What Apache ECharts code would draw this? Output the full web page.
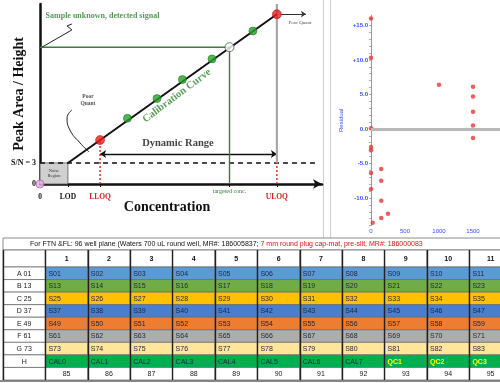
<!DOCTYPE html>
<html><head><meta charset="utf-8">
<script src="https://cdn.jsdelivr.net/npm/echarts@6/dist/echarts.min.js"></script>
<style>html,body{margin:0;padding:0;background:#fff}#c{width:500px;height:383px}</style>
</head><body><div id="c"></div>
<script>
// ---------------- Calibration diagram data ----------------
const calConc   = [2.13, 3.10, 4.15, 5.05, 6.10, 6.72, 7.55, 8.40];
const calSignal = [24.4, 36.5, 47.5, 58.0, 69.5, 76.0, 85.0, 94.3];
const calRole   = ['LLOQ','std','std','std','std','target','std','ULOQ'];
const lodConc = 0.99;
const snSignal = 11.7;
const targetConc = 6.72;
const targetSignal = 76.0;
const lloqConc = 2.13;
const uloqConc = 8.40;
const rangeSignal = 16.7;
const xTickValues = [0, 0.99, 2.13, 6.72, 8.40];
const xTickLabels = ['0', 'LOD', 'LLOQ', 'targeted conc.', 'ULOQ'];
const yTickValues = [0, 11.7];
const yTickLabels = ['0', 'S/N = 3'];
const poorQuantCurveConc   = [1.13, 0.96, 1.06, 1.42, 1.74];
const poorQuantCurveSignal = [41.1, 36.7, 30.0, 22.8, 17.8];
const calloutConc   = [0.07, 1.13, 0.96, 1.13];
const calloutSignal = [76.0, 85.6, 87.8, 88.9];
const annoTexts = ['Sample unknown, detected signal', 'Poor\nQuant', 'Poor Quant', 'Dynamic Range', 'Calibration Curve', 'Noise\nRegion'];

// ---------------- Residual plot data ----------------
const residConc  = [0, 0, 1000, 1500, 1500, 1500, 1500, 1500, 0, 0, 0, 0, 0, 25, 150, 150, 150, 150, 250];
const residValue = [16.0, 10.3, 6.4, 6.1, 4.7, 2.5, 0.5, -1.3, 0.1, -2.6, -3.1, -6.4, -8.7, -13.6, -5.8, -7.5, -10.4, -12.9, -12.3];
const residYTicks  = [-10, -5, 0, 5, 10, 15];
const residYLabels = ['-10.0', '-5.0', '0.0', '5.0', '+10.0', '+15.0'];
const residXTicks  = [0, 500, 1000, 1500];
const residXLabels = ['0', '500', '1000', '1500'];
const residMinorTicks = [-14,-13,-12,-11,-10,-9,-8,-7,-6,-5,-4,-3,-2,-1,0,1,2,3,4,5,6,7,8,9,10,11,12,13,14,15,16];

// ---------------- Plate table data ----------------
const plateTitleBlack = 'For FTN &FL: 96 well plane (Waters 700 uL round well, MR#: 186005837; ';
const plateTitleRed = '7 mm round plug cap-mat, pre-slit, MR#: 186000083';
const plateColumns = ['1','2','3','4','5','6','7','8','9','10','11'];
const rowLabels = ['A 01','B 13','C 25','D 37','E 49','F 61','G 73','H'];
const rowA = ['S01','S02','S03','S04','S05','S06','S07','S08','S09','S10','S11'];
const rowB = ['S13','S14','S15','S16','S17','S18','S19','S20','S21','S22','S23'];
const rowC = ['S25','S26','S27','S28','S29','S30','S31','S32','S33','S34','S35'];
const rowD = ['S37','S38','S39','S40','S41','S42','S43','S44','S45','S46','S47'];
const rowE = ['S49','S50','S51','S52','S53','S54','S55','S56','S57','S58','S59'];
const rowF = ['S61','S62','S63','S64','S65','S66','S67','S68','S69','S70','S71'];
const rowG = ['S73','S74','S75','S76','S77','S78','S79','S80','S81','S82','S83'];
const rowH = ['CAL0','CAL1','CAL2','CAL3','CAL4','CAL5','CAL6','CAL7','QC1','QC2','QC3'];
const bottomRow = ['85','86','87','88','89','90','91','92','93','94','95'];

// ---------------- Build ----------------
const SERIF = 'Liberation Serif';
const SANS = 'Liberation Sans';
const rowColors = ['#5b9bd5','#70ad47','#ffc000','#4a7ed0','#ed7d31','#adadad','#ffe699','#00b050'];
const plateRows = [rowA,rowB,rowC,rowD,rowE,rowF,rowG,rowH];

const tableCells = [];
plateRows.forEach((row, r) => {
  tableCells.push({value:[0, r], text: rowLabels[r], fill:'#ffffff', color:'#1a1a1a', align:'center', bold:false});
  row.forEach((t, c) => {
    const isQC = t.indexOf('QC') === 0;
    tableCells.push({value:[c+1, r], text:t, fill:rowColors[r], color: isQC ? '#ffff00' : '#1b2440', align:'left', bold:isQC});
  });
});
tableCells.push({value:[0, 8], text:'', fill:'#ffffff', color:'#1a1a1a', align:'center'});
bottomRow.forEach((t, c) => tableCells.push({value:[c+1, 8], text:t, fill:'#ffffff', color:'#1a1a1a', align:'center'}));

const headerCells = [{value:[0,0], text:'', fill:'#fff', color:'#111', align:'center', bold:true}];
plateColumns.forEach((t, c) => headerCells.push({value:[c+1,0], text:t, fill:'#fff', color:'#111', align:'center', bold:true}));

function cellRenderer(cells) {
  return function (params, api) {
    const d = cells[params.dataIndex];
    const p = api.coord([api.value(0), api.value(1)]);
    const s = api.size([1, 1]);
    const x0 = p[0] - s[0] / 2, y0 = p[1] - s[1] / 2;
    return {
      type: 'group',
      children: [
        {type:'rect', shape:{x:x0, y:y0, width:s[0], height:s[1]}, style:{fill:d.fill, stroke:'#6e6e6e', lineWidth:0.8}},
        {type:'text', x: d.align === 'left' ? x0 + 3 : p[0], y: p[1] + 0.5,
          style:{text:d.text, fill:d.color, font:(d.bold ? 'bold ' : '') + '7px ' + SANS,
                 textAlign: d.align, textVerticalAlign:'middle'}}
      ]
    };
  };
}

const colCats = ['label'].concat(plateColumns);
const rowCats = rowLabels.concat(['idx']);

const calPoints = calConc.map((x, i) => {
  const role = calRole[i];
  let style;
  if (role === 'LLOQ' || role === 'ULOQ') style = {color:'#ee1c1c', borderColor:'#a00000', borderWidth:0.6};
  else if (role === 'target') style = {color:'#ffffff', borderColor:'#555555', borderWidth:1};
  else style = {color:'#26a326', borderColor:'#0f5f0f', borderWidth:0.6};
  return {value:[x, calSignal[i]], itemStyle:style, symbolSize: (role === 'std') ? 8 : 9};
});

const option = {
  animation: false,
  backgroundColor: '#ffffff',
  grid: [
    {left:40, top:4, width:282, height:180, outerBoundsMode:'none', containLabel:false},
    {left:371, top:15, width:129, height:210.6, outerBoundsMode:'none', containLabel:false},
    {left:3, top:250, width:508.8, height:17, outerBoundsMode:'none', containLabel:false},
    {left:3, top:267, width:508.8, height:113, outerBoundsMode:'none', containLabel:false}
  ],
  xAxis: [
    {gridIndex:0, type:'value', min:0, max:10,
     axisLine:{show:true, lineStyle:{color:'#111', width:2.5}, symbol:['none','arrow'], symbolSize:[7,9]},
     axisTick:{show:true, customValues:[0.99, 2.13, 6.72, 8.40], length:3, lineStyle:{color:'#111', width:1}},
     splitLine:{show:false},
     axisLabel:{customValues:xTickValues, margin:5,
       formatter: v => { const i = xTickValues.indexOf(v); const k = ['k','k','r','g','r'][i]; return '{' + k + '|' + xTickLabels[i] + '}'; },
       rich:{
         k:{fontFamily:SERIF, fontWeight:'bold', fontSize:7.5, color:'#111', padding:[4,0,0,0]},
         r:{fontFamily:SERIF, fontWeight:'bold', fontSize:7.5, color:'#d42020', padding:[4,0,0,0]},
         g:{fontFamily:SERIF, fontSize:6, color:'#2c7a2c', padding:[-1,0,0,0]}
       }},
     name:'Concentration', nameLocation:'middle', nameGap:16, nameMoveOverlap:false,
     nameTextStyle:{fontFamily:SERIF, fontWeight:'bold', fontSize:14, color:'#111', padding:[0,28,0,0]}},
    {gridIndex:1, type:'value', min:0, max:1897,
     axisLine:{show:true, lineStyle:{color:'#d8d8d8', width:1}},
     axisTick:{show:false},
     splitLine:{show:false},
     axisLabel:{customValues:residXTicks, margin:3, color:'#3050ff', fontSize:6, fontFamily:SANS,
       formatter: v => residXLabels[residXTicks.indexOf(v)]}},
    {gridIndex:2, type:'category', data:colCats, axisLine:{show:false}, axisTick:{show:false}, axisLabel:{show:false},
     splitLine:{show:true, interval:0, lineStyle:{color:'#222', width:1.4}}, z:5},
    {gridIndex:3, type:'category', data:colCats, axisLine:{show:false}, axisTick:{show:false}, axisLabel:{show:false},
     splitLine:{show:true, interval:0, lineStyle:{color:'#222', width:1.4}}, z:5}
  ],
  yAxis: [
    {gridIndex:0, type:'value', min:0, max:100,
     axisLine:{show:true, lineStyle:{color:'#111', width:2.5}},
     axisTick:{show:false}, splitLine:{show:false},
     axisLabel:{customValues:yTickValues, margin:4, fontFamily:SERIF, fontWeight:'bold', fontSize:8, color:'#111',
       formatter: v => yTickLabels[yTickValues.indexOf(v)]},
     name:'Peak Area / Height', nameLocation:'middle', nameGap:14, nameRotate:90, nameMoveOverlap:false,
     nameTextStyle:{fontFamily:SERIF, fontWeight:'bold', fontSize:14, color:'#111'}},
    {gridIndex:1, type:'value', min:-14, max:16.5,
     axisLine:{show:true, lineStyle:{color:'#9a9a9a', width:1}},
     axisTick:{show:true, customValues:residMinorTicks, length:2, lineStyle:{color:'#9a9a9a', width:0.8}},
     splitLine:{show:false},
     axisLabel:{customValues:residYTicks, margin:3, color:'#3050ff', fontSize:6, fontWeight:'bold', fontFamily:SANS,
       formatter: v => residYLabels[residYTicks.indexOf(v)]},
     name:'Residual', nameLocation:'middle', nameGap:27, nameRotate:90, nameMoveOverlap:false,
     nameTextStyle:{color:'#3050ff', fontSize:6, fontFamily:SANS}},
    {gridIndex:2, type:'category', data:['hdr'], axisLine:{show:false}, axisTick:{show:false}, axisLabel:{show:false}, splitLine:{show:false}},
    {gridIndex:3, type:'category', data:rowCats, inverse:true, axisLine:{show:false}, axisTick:{show:false}, axisLabel:{show:false}, splitLine:{show:false}}
  ],
  series: [
    // noise region
    {type:'line', xAxisIndex:0, yAxisIndex:0, data:[], silent:true,
     markArea:{silent:true, itemStyle:{color:'#d0d0d0', borderColor:'#555', borderWidth:0.8},
       label:{show:true, position:'inside', formatter:annoTexts[5], fontSize:4.5, fontFamily:SERIF, color:'#333', lineHeight:5},
       data:[[{coord:[0,0]},{coord:[lodConc, snSignal]}]]}},
    // S/N dashed line
    {type:'line', xAxisIndex:0, yAxisIndex:0, data:[[0, snSignal],[9.75, snSignal]], symbol:'none', silent:true,
     lineStyle:{color:'#111', width:1.4, type:[5,4]}},
    // target green lines
    {type:'line', xAxisIndex:0, yAxisIndex:0, data:[[0, targetSignal],[targetConc, targetSignal],[targetConc, 0]], symbol:'none', silent:true,
     lineStyle:{color:'#3c7a3c', width:1.4}},
    // gray ULOQ vertical
    {type:'line', xAxisIndex:0, yAxisIndex:0, data:[[uloqConc, snSignal],[uloqConc, 100]], symbol:'none', silent:true,
     lineStyle:{color:'#a8a8a8', width:2.2}},
    // red dotted verticals
    {type:'line', xAxisIndex:0, yAxisIndex:0, data:[[lloqConc, 0],[lloqConc, calSignal[0]]], symbol:'none', silent:true,
     lineStyle:{color:'#e02020', width:1.4, type:[2,2]}},
    {type:'line', xAxisIndex:0, yAxisIndex:0, data:[[uloqConc, 0],[uloqConc, snSignal]], symbol:'none', silent:true,
     lineStyle:{color:'#e02020', width:1.4, type:[2,2]}},
    // calibration line
    {type:'line', xAxisIndex:0, yAxisIndex:0, data:[[lodConc, snSignal],[calConc[calConc.length-1], calSignal[calSignal.length-1]]], symbol:'none', silent:true,
     lineStyle:{color:'#111', width:2}},
    // callout zigzag
    {type:'line', xAxisIndex:0, yAxisIndex:0, data:calloutConc.map((x,i)=>[x, calloutSignal[i]]), symbol:'none', silent:true,
     lineStyle:{color:'#222', width:1}},
    // poor quant curve
    {type:'line', xAxisIndex:0, yAxisIndex:0, data:poorQuantCurveConc.map((x,i)=>[x, poorQuantCurveSignal[i]]), symbol:'none', smooth:0.5, silent:true,
     lineStyle:{color:'#222', width:1}},
    // arrows
    {type:'lines', coordinateSystem:'cartesian2d', xAxisIndex:0, yAxisIndex:0, silent:true,
     symbol:['arrow','arrow'], symbolSize:6, lineStyle:{color:'#111', width:1.4, opacity:1},
     data:[{coords:[[lloqConc, rangeSignal],[uloqConc, rangeSignal]]}]},
    {type:'lines', coordinateSystem:'cartesian2d', xAxisIndex:0, yAxisIndex:0, silent:true,
     symbol:['none','arrow'], symbolSize:5, lineStyle:{color:'#333', width:1, opacity:1},
     data:[{coords:[[8.55, 94.4],[9.43, 94.4]]}]},
    // calibration points
    {type:'scatter', xAxisIndex:0, yAxisIndex:0, data:calPoints, symbol:'circle', silent:true, z:4},
    // origin
    {type:'scatter', xAxisIndex:0, yAxisIndex:0, data:[[0,0]], symbolSize:8, silent:true, z:4,
     itemStyle:{color:'#eab0ea', borderColor:'#a050a0', borderWidth:0.8}},
    // annotation texts
    {type:'scatter', xAxisIndex:0, yAxisIndex:0, symbolSize:1, itemStyle:{color:'rgba(0,0,0,0)'}, silent:true, z:5,
     data:[
       {value:[0.18, 93.3], label:{show:true, position:'right', distance:0, formatter:annoTexts[0], fontFamily:SERIF, fontWeight:'bold', fontSize:8, color:'#2f7a2f'}},
       {value:[1.70, 46.7], label:{show:true, position:'inside', formatter:annoTexts[1], fontFamily:SERIF, fontWeight:'bold', fontSize:5.5, lineHeight:7, color:'#222'}},
       {value:[9.22, 89.6], label:{show:true, position:'inside', formatter:annoTexts[2], fontFamily:SERIF, fontSize:5, color:'#222'}},
       {value:[4.89, 22.8], label:{show:true, position:'inside', formatter:annoTexts[3], fontFamily:SERIF, fontWeight:'bold', fontSize:10.5, color:'#111'}},
       {value:[4.85, 49.0], label:{show:true, position:'inside', rotate:37, formatter:annoTexts[4], fontFamily:SERIF, fontWeight:'bold', fontSize:10.5, color:'#2f8a2f'}}
     ]},
    // residual points
    {type:'scatter', xAxisIndex:1, yAxisIndex:1, data:residConc.map((x,i)=>[x, residValue[i]]), symbol:'circle', symbolSize:4.5, silent:true,
     itemStyle:{color:'#ee3333'},
     markLine:{silent:true, symbol:'none', label:{show:false}, lineStyle:{color:'#b8b8b8', width:3, type:'solid'}, data:[{yAxis:0}]}},
    // table header
    {type:'custom', xAxisIndex:2, yAxisIndex:2, silent:true, data:headerCells.map(d=>d.value), renderItem:cellRenderer(headerCells)},
    // table body
    {type:'custom', xAxisIndex:3, yAxisIndex:3, silent:true, data:tableCells.map(d=>d.value), renderItem:cellRenderer(tableCells)}
  ],
  graphic: [
    {type:'line', shape:{x1:323.5, y1:0, x2:323.5, y2:238}, style:{stroke:'#cfcfcf', lineWidth:1}, silent:true},
    {type:'line', shape:{x1:330.5, y1:0, x2:330.5, y2:238}, style:{stroke:'#cfcfcf', lineWidth:1}, silent:true},
    {type:'rect', shape:{x:3, y:238, width:509, height:12}, style:{fill:'#ffffff', stroke:'#6e6e6e', lineWidth:0.8}, silent:true},
    {type:'text', x:30, y:244.5, silent:true, style:{
      text:'{b|' + plateTitleBlack + '}{r|' + plateTitleRed + '}', textVerticalAlign:'middle',
      rich:{b:{fill:'#111', fontSize:7, fontFamily:SANS}, r:{fill:'#e01010', fontSize:7, fontFamily:SANS}}}},
    {type:'line', shape:{x1:0, y1:381, x2:500, y2:381}, style:{stroke:'#8a8a8a', lineWidth:2}, silent:true}
  ]
};

const chart = echarts.init(document.getElementById('c'), null, {renderer:'canvas'});
chart.setOption(option);
</script>
</body></html>
